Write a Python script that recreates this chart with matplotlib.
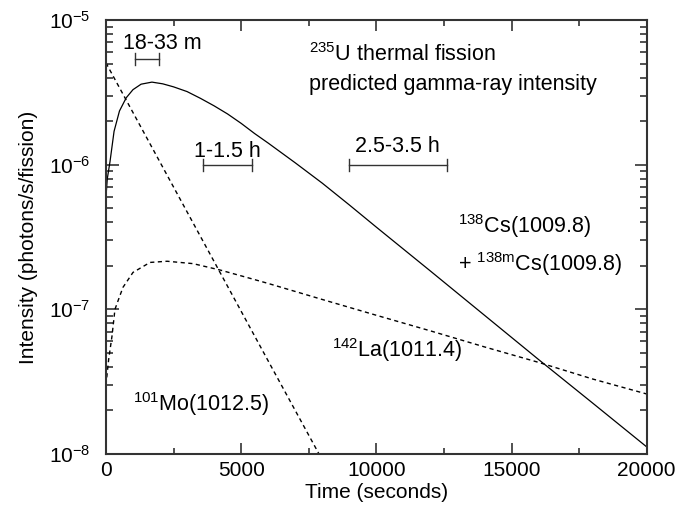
import matplotlib
matplotlib.use("Agg")
import matplotlib.pyplot as plt
from matplotlib.ticker import LogLocator, MultipleLocator, NullFormatter

plt.rcParams["font.family"] = ["Liberation Sans", "DejaVu Sans"]
plt.rcParams["mathtext.fontset"] = "custom"
plt.rcParams["mathtext.rm"] = "Liberation Sans"
plt.rcParams["mathtext.it"] = "Liberation Sans:italic"
plt.rcParams["mathtext.default"] = "regular"

# values (time in s, intensity in photons/s/fission)
cs_t = [0, 50, 150, 300, 500, 750, 1000, 1300, 1700, 2100, 2500, 3000, 3500,
        4000, 4500, 5000, 5500, 6000, 7000, 8000, 9000, 10000, 12000, 14000,
        16000, 18000, 20000]
cs_i = [6.0e-7, 8.0e-7, 1.05e-6, 1.7e-6, 2.35e-6, 2.9e-6, 3.3e-6, 3.6e-6, 3.72e-6,
        3.62e-6, 3.45e-6, 3.2e-6, 2.87e-6, 2.55e-6, 2.24e-6, 1.93e-6, 1.64e-6,
        1.41e-6, 1.03e-6, 7.45e-7, 5.27e-7, 3.7e-7, 1.84e-7, 9.1e-8, 4.5e-8,
        2.25e-8, 1.12e-8]

mo_t = [0, 2000, 4000, 6000, 8000]
mo_i = [5.05e-6, 1.04e-6, 2.14e-7, 4.4e-8, 9.1e-9]

la_t = [0, 100, 222, 333, 450, 630, 1000, 1630, 2260, 3220, 4220, 5220, 6000,
        8000, 10000, 12000, 14000, 16000, 18000, 20000]
la_i = [3.0e-8, 4.5e-8, 6.5e-8, 1.0e-7, 1.15e-7, 1.42e-7, 1.8e-7, 2.11e-7, 2.15e-7,
        2.07e-7, 1.87e-7, 1.66e-7, 1.51e-7, 1.17e-7, 9.1e-8, 7.1e-8, 5.5e-8,
        4.3e-8, 3.3e-8, 2.6e-8]

# half-life ranges (seconds) and their labels
range_lo = [1080, 3600, 9000]
range_hi = [1980, 5400, 12600]
range_lbl = ["18-33 m", "1-1.5 h", "2.5-3.5 h"]

fig = plt.figure(figsize=(6.88, 5.15), dpi=100)
ax = fig.add_axes([0.154, 0.1184, 0.786, 0.8428])

ax.plot(cs_t, cs_i, color="black", lw=0.9)
ax.plot(mo_t, mo_i, color="black", lw=1.0, dashes=(3, 2.5))
ax.plot(la_t, la_i, color="black", lw=1.0, dashes=(3, 2.5))

bar_y = [5.4e-6, 1.0e-6, 1.0e-6]
lbl_x = [2070, 4500, 10790]
lbl_y = [6.85e-6, 1.23e-6, 1.33e-6]
for lo, hi, y, lbl, lx, ly in zip(range_lo, range_hi, bar_y, range_lbl, lbl_x, lbl_y):
    ax.plot([lo, hi], [y, y], color="#333333", lw=1.0)
    ax.plot([lo, lo], [y / 1.1, y * 1.1], color="#333333", lw=1.0)
    ax.plot([hi, hi], [y / 1.1, y * 1.1], color="#333333", lw=1.0)
    ax.text(lx, ly, lbl, ha="center", va="center", fontsize=15.5)

fs = 15.5
ax.text(7520, 5.8e-6, r"$^{235}$U thermal fission", fontsize=fs, va="center")
ax.text(7520, 3.6e-6, "predicted gamma-ray intensity", fontsize=fs, va="center")
ax.text(13020, 3.75e-7, r"$^{138}$Cs(1009.8)", fontsize=fs, va="center")
ax.text(13020, 2.05e-7, r"+ $^{138m}$Cs(1009.8)", fontsize=fs, va="center")
ax.text(8350, 5.2e-8, r"$^{142}$La(1011.4)", fontsize=fs, va="center")
ax.text(1000, 2.2e-8, r"$^{101}$Mo(1012.5)", fontsize=fs, va="center")

ax.set_yscale("log")
ax.set_xlim(0, 20000)
ax.set_ylim(1e-8, 1e-5)
ax.xaxis.set_major_locator(MultipleLocator(5000))
ax.xaxis.set_minor_locator(MultipleLocator(2500))
ax.yaxis.set_minor_locator(LogLocator(base=10, subs=range(2, 10)))
ax.yaxis.set_minor_formatter(NullFormatter())

ax.tick_params(which="both", direction="in", top=True, right=True,
               colors="#333333", labelcolor="black", labelsize=15, width=1.2)
ax.tick_params(axis="x", which="major", length=8, pad=5)
ax.tick_params(axis="x", which="minor", length=4)
ax.tick_params(axis="y", which="major", length=9, pad=11)
ax.tick_params(axis="y", which="minor", length=5)
for s in ax.spines.values():
    s.set_color("#333333")
    s.set_linewidth(1.5)

ax.set_xlabel("Time (seconds)", fontsize=15, labelpad=2)
ax.set_ylabel("Intensity (photons/s/fission)", fontsize=15, labelpad=8)

fig.savefig("out.png", dpi=100)
